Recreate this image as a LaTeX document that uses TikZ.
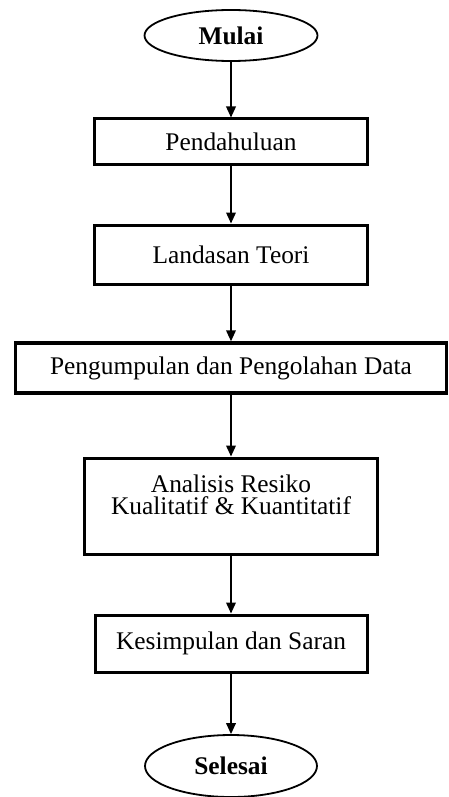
\documentclass[tikz,border=0pt]{standalone}
\usepackage{fontspec}
\setmainfont{Liberation Serif}
\usetikzlibrary{arrows.meta,shapes.geometric}
\begin{document}
\begin{tikzpicture}[
		x=0.5pt, y=-0.5pt,
		MyBox/.style={draw=black, fill=white, line width=1.5pt, rectangle, inner sep=0pt, align=center, font=\fontsize{12.7}{11.4}\selectfont},
		MyEllipse/.style={draw=black, fill=white, line width=0.9pt, ellipse, inner sep=0pt, font=\fontsize{12.7}{11.4}\selectfont\bfseries},
		Flow/.style={-{Triangle[length=5.5pt, width=4.8pt]}, line width=0.85pt},
		every node/.style={scale=1}
		]
		
		\useasboundingbox (0,0) rectangle (449,797);
		
		% start
		\node[MyEllipse, minimum width=86.5pt, minimum height=25.5pt] (mulai) at (231,35.5) {Mulai};
		
		% steps
		\node[MyBox, minimum width=136.5pt, minimum height=22.5pt] (pend) at (231,141.5) {Pendahuluan};
		\node[MyBox, minimum width=136.5pt, minimum height=29.5pt] (teori) at (231,254.5) {Landasan Teori};
		\node[MyBox, minimum width=215.5pt, minimum height=25pt, line width=1.7pt] (data) at (231,368) {Pengumpulan dan Pengolahan Data};
		\node[MyBox, minimum width=146.5pt, minimum height=48pt] (resiko) at (231,506) {Analisis Resiko\\Kualitatif \& Kuantitatif\\ ~};
		\node[MyBox, minimum width=136pt, minimum height=28.5pt] (saran) at (231,643.5) {Kesimpulan dan Saran};
		
		% end
		\node[MyEllipse, minimum width=86pt, minimum height=31pt] (selesai) at (231,766) {Selesai};
		
		\draw[Flow] (mulai) -- (pend);
		\draw[Flow] (pend) -- (teori);
		\draw[Flow] (teori) -- (data);
		\draw[Flow] (data) -- (resiko);
		\draw[Flow] (resiko) -- (saran);
		\draw[Flow] (saran) -- (selesai);
		
		\end{tikzpicture}
\end{document}
